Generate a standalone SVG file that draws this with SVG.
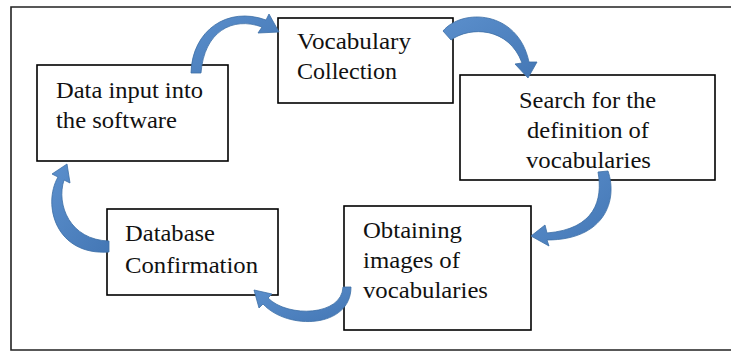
<svg xmlns="http://www.w3.org/2000/svg" width="731" height="352" viewBox="0 0 731 352">
<defs>
<style>
.box{fill:#fff;stroke:#000;stroke-width:1.6}
.arr{fill:url(#g);stroke:#3c6ea6;stroke-width:0.8}
</style>
<linearGradient id="g" x1="0" y1="0" x2="1" y2="1">
<stop offset="0" stop-color="#5b8fcc"/>
<stop offset="1" stop-color="#4477b5"/>
</linearGradient>
</defs>
<rect width="731" height="352" fill="#fff"/>
<path d="M731,7 H11 V350 H731" fill="none" stroke="#222" stroke-width="1.6"/>
<g font-family="Liberation Serif, DejaVu Serif, serif" font-size="23" fill="#111">
<g id="n1">
<rect class="box" x="37" y="65" width="191" height="96"/>
<text x="56" y="98" textLength="147" lengthAdjust="spacingAndGlyphs">Data input into</text>
<text x="56" y="128" textLength="121" lengthAdjust="spacingAndGlyphs">the software</text>
</g>
<g id="n2">
<rect class="box" x="278" y="18" width="175" height="85"/>
<text x="297" y="49" textLength="114" lengthAdjust="spacingAndGlyphs">Vocabulary</text>
<text x="297" y="79" textLength="100" lengthAdjust="spacingAndGlyphs">Collection</text>
</g>
<g id="n3">
<rect class="box" x="460" y="75" width="255" height="105"/>
<text x="519" y="108" textLength="137" lengthAdjust="spacingAndGlyphs">Search for the</text>
<text x="527" y="138" textLength="122" lengthAdjust="spacingAndGlyphs">definition of</text>
<text x="526" y="168" textLength="125" lengthAdjust="spacingAndGlyphs">vocabularies</text>
</g>
<g id="n4">
<rect class="box" x="344" y="206" width="187" height="124"/>
<text x="363" y="238" textLength="99" lengthAdjust="spacingAndGlyphs">Obtaining</text>
<text x="363" y="268" textLength="97" lengthAdjust="spacingAndGlyphs">images of</text>
<text x="363" y="298" textLength="125" lengthAdjust="spacingAndGlyphs">vocabularies</text>
</g>
<g id="n5">
<rect class="box" x="107" y="209" width="171" height="86"/>
<text x="125" y="241" textLength="90" lengthAdjust="spacingAndGlyphs">Database</text>
<text x="125" y="273" textLength="133" lengthAdjust="spacingAndGlyphs">Confirmation</text>
</g>
</g>
<g id="connectors">
<path class="arr" d="M191,73 C192,30 228,6 266,20 L269,14 L279,32 L258,33 L262,27 C232,16 204,32 201,73 Z"/>
<path class="arr" d="M443,31 C462,8 518,10 529,62 L537,62 L528,78 L515,64 L522,63 C509,27 470,26 451,40 Z"/>
<path class="arr" d="M608,171 C618,200 605,240 547,240 L549,246 L531,236 L545,225 L547,233 C595,229 603,200 598,172 Z"/>
<path class="arr" d="M351,287 C351,328 288,331 263,304 L259,308 L254,290 L272,294 L268,298 C288,318 342,316 343,287 Z"/>
<path class="arr" d="M109,252 C56,256 42,205 58,177 L52,174 L67,164 L70,183 L64,180 C56,205 70,240 109,241 Z"/>
</g>
</svg>
